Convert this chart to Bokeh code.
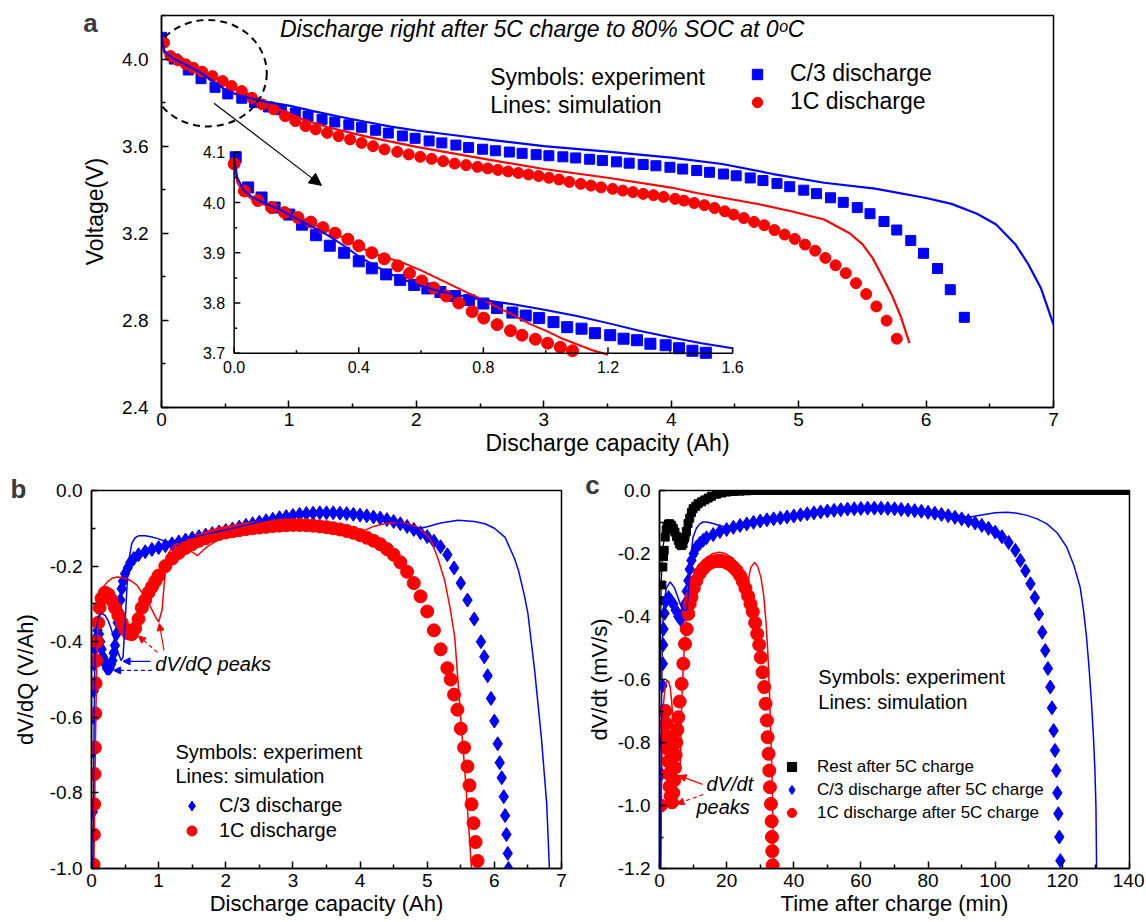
from bokeh.plotting import figure
from bokeh.models import (Range1d, FixedTicker, Label, Arrow, NormalHead, Legend, LegendItem,
                          PrintfTickFormatter)
from bokeh.layouts import column, row
from bokeh.embed import file_html
from bokeh.resources import INLINE
from bokeh.core.properties import value

FONT = "Liberation Sans"
BLUE = "#0000FF"
RED = "#FF0000"
BLACK = "#000000"

# ---------------- Panel a : voltage vs discharge capacity ----------------
A_X_TICKS = [0, 1, 2, 3, 4, 5, 6, 7]
A_X_MINOR = [0.5, 1.5, 2.5, 3.5, 4.5, 5.5, 6.5]
A_Y_TICKS = [2.4, 2.8, 3.2, 3.6, 4.0]
A_Y_MINOR = [2.6, 3.0, 3.4, 3.8, 4.2]

A_C3_EXP = [(0.00, 4.10), (0.10, 4.00), (0.21, 3.95), (0.31, 3.91), (0.42, 3.87), (0.52, 3.84),
            (0.63, 3.82), (0.73, 3.80), (0.84, 3.78), (0.94, 3.767), (1.05, 3.752), (1.15, 3.738),
            (1.26, 3.723), (1.36, 3.711), (1.47, 3.698), (1.57, 3.687), (1.68, 3.673), (1.78, 3.66),
            (1.89, 3.647), (1.99, 3.636), (2.10, 3.624), (2.20, 3.615), (2.31, 3.605), (2.41, 3.594),
            (2.52, 3.586), (2.62, 3.579), (2.73, 3.573), (2.83, 3.567), (2.94, 3.561), (3.04, 3.556),
            (3.15, 3.551), (3.25, 3.546), (3.36, 3.540), (3.46, 3.534), (3.57, 3.528), (3.67, 3.522),
            (3.78, 3.516), (3.88, 3.510), (3.99, 3.503), (4.09, 3.495), (4.20, 3.488), (4.30, 3.480),
            (4.41, 3.472), (4.51, 3.464), (4.62, 3.454), (4.72, 3.442), (4.83, 3.429), (4.93, 3.414),
            (5.04, 3.398), (5.14, 3.382), (5.25, 3.363), (5.35, 3.342), (5.46, 3.318), (5.56, 3.290),
            (5.67, 3.254), (5.77, 3.215), (5.88, 3.167), (5.98, 3.108), (6.09, 3.038), (6.19, 2.941),
            (6.30, 2.814)]

A_1C_EXP = [(0.02, 4.075), (0.07, 4.014), (0.13, 3.994), (0.19, 3.976), (0.25, 3.96), (0.32, 3.942),
            (0.40, 3.922), (0.48, 3.899), (0.55, 3.876), (0.63, 3.853), (0.71, 3.822), (0.79, 3.792),
            (0.88, 3.769), (0.97, 3.738), (1.05, 3.715), (1.13, 3.692), (1.21, 3.677), (1.30, 3.661),
            (1.39, 3.646), (1.48, 3.631), (1.57, 3.615), (1.66, 3.600), (1.75, 3.585), (1.85, 3.574),
            (1.94, 3.562), (2.03, 3.551), (2.12, 3.542), (2.21, 3.531), (2.30, 3.520), (2.39, 3.513),
            (2.48, 3.505), (2.56, 3.498), (2.64, 3.491), (2.72, 3.484), (2.80, 3.477), (2.88, 3.470),
            (2.96, 3.463), (3.04, 3.455), (3.12, 3.447), (3.20, 3.436), (3.29, 3.427), (3.37, 3.419),
            (3.45, 3.411), (3.54, 3.404), (3.62, 3.396), (3.70, 3.389), (3.78, 3.381), (3.86, 3.375),
            (3.94, 3.367), (4.03, 3.358), (4.10, 3.350), (4.18, 3.339), (4.26, 3.329), (4.34, 3.316),
            (4.42, 3.301), (4.49, 3.286), (4.57, 3.270), (4.65, 3.252), (4.73, 3.237), (4.81, 3.215),
            (4.89, 3.194), (4.97, 3.174), (5.05, 3.148), (5.13, 3.120), (5.21, 3.087), (5.29, 3.053),
            (5.37, 3.017), (5.45, 2.971), (5.53, 2.921), (5.61, 2.864), (5.69, 2.799), (5.77, 2.716)]

A_C3_SIM = [(0.0, 4.10), (0.02, 4.04), (0.05, 4.02), (0.1, 4.0), (0.2, 3.97), (0.3, 3.94), (0.4, 3.90),
            (0.5, 3.86), (0.6, 3.835), (0.7, 3.82), (0.8, 3.806), (1.0, 3.786), (1.2, 3.76), (1.4, 3.735),
            (1.6, 3.712), (1.8, 3.69), (2.0, 3.672), (2.3, 3.65), (2.6, 3.628), (3.0, 3.60), (3.5, 3.575),
            (4.0, 3.547), (4.4, 3.518), (4.8, 3.472), (5.2, 3.432), (5.6, 3.405), (6.0, 3.362),
            (6.2, 3.335), (6.4, 3.29), (6.55, 3.24), (6.7, 3.15), (6.8, 3.06), (6.9, 2.95), (7.0, 2.78)]

A_1C_SIM = [(0.0, 4.08), (0.02, 4.03), (0.1, 3.995), (0.3, 3.945), (0.5, 3.888), (0.7, 3.835),
            (0.9, 3.775), (1.1, 3.725), (1.3, 3.688), (1.6, 3.645), (2.0, 3.597), (2.5, 3.545),
            (3.0, 3.495), (3.5, 3.455), (4.0, 3.41), (4.2, 3.385), (4.7, 3.332), (4.95, 3.30),
            (5.2, 3.263), (5.4, 3.20), (5.5, 3.15), (5.58, 3.087), (5.65, 3.01), (5.73, 2.918),
            (5.8, 2.82), (5.87, 2.696)]

# inset (zoom of the first 1.6 Ah)
INS_X_TICKS = [0.0, 0.4, 0.8, 1.2, 1.6]
INS_X_MINOR = [0.2, 0.6, 1.0, 1.4]
INS_Y_TICKS = [3.7, 3.8, 3.9, 4.0, 4.1]
INS_Y_MINOR = [3.75, 3.85, 3.95, 4.05]

INS_C3_EXP = [(0.005, 4.09), (0.045, 4.03), (0.088, 4.01), (0.13, 3.99), (0.177, 3.976), (0.218, 3.956),
              (0.263, 3.935), (0.307, 3.914), (0.353, 3.90), (0.40, 3.883), (0.442, 3.869), (0.488, 3.857),
              (0.533, 3.846), (0.578, 3.836), (0.62, 3.829), (0.662, 3.822), (0.709, 3.814), (0.754, 3.806),
              (0.80, 3.799), (0.844, 3.79), (0.893, 3.781), (0.936, 3.775), (0.979, 3.77), (1.025, 3.762),
              (1.069, 3.752), (1.115, 3.749), (1.158, 3.74), (1.207, 3.736), (1.25, 3.729), (1.293, 3.726),
              (1.336, 3.719), (1.385, 3.716), (1.428, 3.71), (1.471, 3.705), (1.514, 3.701)]

INS_1C_EXP = [(0.0, 4.077), (0.033, 4.023), (0.076, 4.004), (0.12, 3.99), (0.162, 3.98), (0.205, 3.97),
              (0.246, 3.961), (0.285, 3.95), (0.324, 3.939), (0.365, 3.927), (0.40, 3.914), (0.442, 3.90),
              (0.482, 3.888), (0.525, 3.874), (0.563, 3.859), (0.602, 3.844), (0.641, 3.83), (0.681, 3.814),
              (0.721, 3.80), (0.764, 3.783), (0.801, 3.77), (0.844, 3.757), (0.887, 3.745), (0.924, 3.736),
              (0.967, 3.728), (1.006, 3.72), (1.047, 3.712), (1.086, 3.705)]

INS_C3_SIM = [(0.0, 4.09), (0.01, 4.05), (0.03, 4.025), (0.06, 4.01), (0.1, 3.998), (0.15, 3.985),
              (0.2, 3.968), (0.25, 3.952), (0.3, 3.935), (0.35, 3.915), (0.4, 3.893), (0.45, 3.875),
              (0.5, 3.858), (0.55, 3.845), (0.6, 3.834), (0.65, 3.825), (0.7, 3.818), (0.75, 3.812),
              (0.8, 3.806), (0.9, 3.797), (1.0, 3.786), (1.1, 3.774), (1.2, 3.76), (1.3, 3.745),
              (1.4, 3.732), (1.5, 3.72), (1.6, 3.71)]

INS_1C_SIM = [(0.0, 4.08), (0.01, 4.04), (0.03, 4.02), (0.06, 4.005), (0.1, 3.995), (0.15, 3.982),
              (0.2, 3.97), (0.25, 3.958), (0.3, 3.945), (0.35, 3.93), (0.4, 3.912), (0.45, 3.898),
              (0.5, 3.888), (0.55, 3.878), (0.6, 3.865), (0.65, 3.85), (0.7, 3.835), (0.75, 3.82),
              (0.8, 3.806), (0.85, 3.79), (0.9, 3.775), (0.95, 3.758), (1.0, 3.745), (1.05, 3.73),
              (1.1, 3.718), (1.15, 3.706), (1.2, 3.697)]

# ---------------- Panel b : dV/dQ ----------------
B_X_TICKS = [0, 1, 2, 3, 4, 5, 6, 7]
B_X_MINOR = [0.5, 1.5, 2.5, 3.5, 4.5, 5.5, 6.5]
B_Y_TICKS = [-1.0, -0.8, -0.6, -0.4, -0.2, 0.0]
B_Y_MINOR = [-0.9, -0.7, -0.5, -0.3, -0.1]

B_C3_EXP = [(0.02, -0.99), (0.02, -0.85), (0.025, -0.69), (0.03, -0.60), (0.035, -0.53), (0.04, -0.46),
            (0.05, -0.42), (0.07, -0.39), (0.09, -0.37), (0.11, -0.38), (0.13, -0.40), (0.15, -0.42),
            (0.17, -0.44), (0.19, -0.45), (0.21, -0.46), (0.23, -0.47), (0.25, -0.47), (0.27, -0.47),
            (0.29, -0.46), (0.31, -0.45), (0.33, -0.43), (0.35, -0.41), (0.37, -0.38), (0.39, -0.35),
            (0.41, -0.32), (0.43, -0.29), (0.45, -0.26), (0.47, -0.24), (0.50, -0.22), (0.54, -0.205),
            (0.58, -0.19), (0.63, -0.18), (0.70, -0.17), (0.80, -0.162), (0.90, -0.156), (1.00, -0.151),
            (1.10, -0.146), (1.20, -0.141), (1.30, -0.136), (1.40, -0.131), (1.50, -0.126), (1.60, -0.122),
            (1.70, -0.118), (1.80, -0.114), (1.90, -0.11), (2.00, -0.106), (2.10, -0.102), (2.20, -0.097),
            (2.30, -0.092), (2.40, -0.088), (2.50, -0.084), (2.60, -0.08), (2.70, -0.076), (2.80, -0.072),
            (2.90, -0.069), (3.00, -0.066), (3.10, -0.063), (3.20, -0.061), (3.30, -0.06), (3.40, -0.059),
            (3.50, -0.059), (3.60, -0.059), (3.70, -0.06), (3.80, -0.061), (3.90, -0.063), (4.00, -0.065),
            (4.10, -0.067), (4.20, -0.07), (4.30, -0.073), (4.40, -0.077), (4.50, -0.082), (4.60, -0.088),
            (4.70, -0.095), (4.80, -0.103), (4.90, -0.112), (5.00, -0.122), (5.10, -0.134), (5.20, -0.149),
            (5.30, -0.17), (5.40, -0.205), (5.50, -0.245), (5.60, -0.29), (5.70, -0.34), (5.80, -0.40),
            (5.85, -0.44), (5.90, -0.49), (5.95, -0.55), (6.00, -0.61), (6.05, -0.67), (6.08, -0.72),
            (6.11, -0.76), (6.14, -0.81), (6.16, -0.86), (6.18, -0.91), (6.20, -0.96), (6.21, -1.00)]

B_1C_EXP = [(0.03, -0.99), (0.035, -0.91), (0.04, -0.83), (0.045, -0.75), (0.05, -0.68), (0.055, -0.59),
            (0.06, -0.51), (0.07, -0.45), (0.08, -0.40), (0.10, -0.35), (0.12, -0.31), (0.15, -0.285),
            (0.20, -0.27), (0.25, -0.275), (0.30, -0.29), (0.35, -0.31), (0.40, -0.33), (0.45, -0.35),
            (0.50, -0.367), (0.55, -0.378), (0.60, -0.38), (0.65, -0.365), (0.70, -0.34), (0.75, -0.31),
            (0.80, -0.29), (0.85, -0.27), (0.90, -0.255), (0.95, -0.24), (1.00, -0.225), (1.10, -0.20),
            (1.20, -0.18), (1.30, -0.165), (1.40, -0.152), (1.50, -0.142), (1.60, -0.133), (1.70, -0.126),
            (1.80, -0.12), (1.90, -0.115), (2.00, -0.111), (2.10, -0.108), (2.20, -0.105), (2.30, -0.102),
            (2.40, -0.10), (2.50, -0.098), (2.60, -0.096), (2.70, -0.094), (2.80, -0.093), (2.90, -0.092),
            (3.00, -0.091), (3.10, -0.091), (3.20, -0.092), (3.30, -0.093), (3.40, -0.095), (3.50, -0.097),
            (3.60, -0.10), (3.70, -0.103), (3.80, -0.107), (3.90, -0.112), (4.00, -0.118), (4.10, -0.125),
            (4.20, -0.133), (4.30, -0.142), (4.40, -0.155), (4.50, -0.17), (4.60, -0.19), (4.70, -0.215),
            (4.80, -0.245), (4.90, -0.28), (5.00, -0.32), (5.10, -0.37), (5.20, -0.42), (5.30, -0.47),
            (5.35, -0.50), (5.40, -0.54), (5.45, -0.58), (5.50, -0.63), (5.55, -0.68), (5.60, -0.73),
            (5.63, -0.78), (5.66, -0.83), (5.69, -0.88), (5.72, -0.93), (5.75, -0.98)]

B_C3_SIM = [(0.02, -1.0), (0.03, -0.8), (0.04, -0.6), (0.05, -0.45), (0.07, -0.37), (0.10, -0.335),
            (0.15, -0.325), (0.20, -0.33), (0.25, -0.345), (0.30, -0.37), (0.35, -0.40), (0.40, -0.43),
            (0.44, -0.45), (0.47, -0.44), (0.50, -0.35), (0.53, -0.25), (0.56, -0.18), (0.60, -0.14),
            (0.65, -0.125), (0.70, -0.12), (0.80, -0.12), (0.90, -0.123), (1.00, -0.128), (1.10, -0.135),
            (1.20, -0.134), (1.50, -0.124), (2.00, -0.104), (2.50, -0.083), (3.00, -0.065), (3.50, -0.058),
            (4.00, -0.063), (4.50, -0.08), (4.80, -0.098), (4.90, -0.10), (5.00, -0.096), (5.20, -0.086),
            (5.46, -0.079), (5.70, -0.082), (5.86, -0.088), (6.00, -0.10), (6.16, -0.124), (6.30, -0.18),
            (6.36, -0.212), (6.45, -0.28), (6.50, -0.326), (6.60, -0.476), (6.70, -0.653), (6.78, -0.829),
            (6.82, -1.0)]

B_1C_SIM = [(0.035, -1.0), (0.05, -0.8), (0.06, -0.65), (0.085, -0.39), (0.13, -0.28), (0.18, -0.255),
            (0.23, -0.243), (0.30, -0.233), (0.38, -0.229), (0.45, -0.23), (0.53, -0.234), (0.60, -0.24),
            (0.68, -0.251), (0.75, -0.27), (0.83, -0.291), (0.90, -0.315), (0.955, -0.335), (1.00, -0.348),
            (1.05, -0.317), (1.10, -0.212), (1.15, -0.165), (1.22, -0.145), (1.28, -0.141), (1.35, -0.145),
            (1.42, -0.152), (1.50, -0.163), (1.58, -0.172), (1.65, -0.16), (1.75, -0.145), (2.00, -0.12),
            (2.50, -0.10), (3.00, -0.09), (3.50, -0.095), (3.90, -0.108), (4.01, -0.11), (4.20, -0.095),
            (4.36, -0.088), (4.50, -0.085), (4.61, -0.084), (4.75, -0.09), (4.86, -0.097), (4.96, -0.112),
            (5.06, -0.132), (5.16, -0.18), (5.26, -0.238), (5.34, -0.31), (5.41, -0.388), (5.48, -0.556),
            (5.52, -0.65), (5.56, -0.741), (5.61, -0.87), (5.66, -1.0)]

# ---------------- Panel c : dV/dt ----------------
C_X_TICKS = [0, 20, 40, 60, 80, 100, 120, 140]
C_X_MINOR = [10, 30, 50, 70, 90, 110, 130]
C_Y_TICKS = [-1.2, -1.0, -0.8, -0.6, -0.4, -0.2, 0.0]
C_Y_MINOR = [-1.1, -0.9, -0.7, -0.5, -0.3, -0.1]

C_REST_EXP = [(0.5, -0.35), (0.7, -0.30), (1.0, -0.243), (1.2, -0.21), (1.4, -0.19), (1.7, -0.148),
              (2.0, -0.125), (2.3, -0.113), (2.7, -0.106), (3.1, -0.106), (3.6, -0.111), (4.1, -0.12),
              (4.6, -0.132), (5.1, -0.146), (5.6, -0.159), (6.0, -0.17), (6.5, -0.175), (7.0, -0.17),
              (7.5, -0.15), (8.0, -0.13), (8.5, -0.105), (9.0, -0.088), (9.5, -0.07), (10.0, -0.058),
              (10.8, -0.05), (11.5, -0.042), (12.5, -0.036), (13.5, -0.03), (14.5, -0.024), (15.5, -0.018),
              (17.0, -0.012), (18.5, -0.008), (20.0, -0.005), (22.0, -0.003), (24.0, -0.002), (26.0, -0.001),
              (28, 0.0), (30, 0.0), (32, 0.0), (34, 0.0), (36, 0.0), (38, 0.0), (40, 0.0), (42, 0.0),
              (44, 0.0), (46, 0.0), (48, 0.0), (50, 0.0), (52, 0.0), (54, 0.0), (56, 0.0), (58, 0.0),
              (60, 0.0), (62, 0.0), (64, 0.0), (66, 0.0), (68, 0.0), (70, 0.0), (72, 0.0), (74, 0.0),
              (76, 0.0), (78, 0.0), (80, 0.0), (82, 0.0), (84, 0.0), (86, 0.0), (88, 0.0), (90, 0.0),
              (92, 0.0), (94, 0.0), (96, 0.0), (98, 0.0), (100, 0.0), (102, 0.0), (104, 0.0), (106, 0.0),
              (108, 0.0), (110, 0.0), (112, 0.0), (114, 0.0), (116, 0.0), (118, 0.0), (120, 0.0),
              (122, 0.0), (124, 0.0), (126, 0.0), (128, 0.0), (130, 0.0), (132, 0.0), (134, 0.0),
              (136, 0.0), (138, 0.0), (140, 0.0)]

C_REST_SIM = [(0.2, -0.6), (0.5, -0.3), (1.0, -0.18), (2.0, -0.125), (3.0, -0.11), (4.0, -0.115),
              (5.0, -0.135), (6.0, -0.155), (7.0, -0.17), (8.0, -0.172), (8.6, -0.16), (9.2, -0.12),
              (10.0, -0.075), (11.0, -0.05), (12.0, -0.04), (14.0, -0.027), (17.0, -0.013), (20.0, -0.006),
              (25.0, -0.002), (30.0, 0.0), (140.0, 0.0)]

C_C3_EXP = [(0.5, -1.0), (0.6, -0.9), (0.7, -0.8), (0.8, -0.7), (0.9, -0.62), (1.0, -0.55), (1.1, -0.49),
            (1.2, -0.44), (1.5, -0.39), (2.0, -0.35), (2.7, -0.34), (3.4, -0.35), (4.1, -0.36), (4.8, -0.38),
            (5.6, -0.40), (6.3, -0.41), (7.0, -0.39), (7.6, -0.36), (8.1, -0.32), (8.6, -0.286), (9.0, -0.25),
            (9.5, -0.222), (10.2, -0.20), (11.0, -0.18), (12.0, -0.168), (13.0, -0.158), (14.0, -0.15),
            (16.0, -0.14), (18.0, -0.13), (20.0, -0.124), (22.0, -0.117), (24.0, -0.111), (26.0, -0.106),
            (28.0, -0.101), (30.0, -0.097), (32.0, -0.093), (34.0, -0.09), (36.0, -0.087), (38.0, -0.084),
            (40.0, -0.081), (42.0, -0.077), (44.0, -0.074), (46.0, -0.071), (48.0, -0.068), (50.0, -0.065),
            (52.0, -0.063), (54.0, -0.061), (56.0, -0.059), (58.0, -0.058), (60.0, -0.057), (62.0, -0.056),
            (64.0, -0.056), (66.0, -0.056), (68.0, -0.057), (70.0, -0.058), (72.0, -0.06), (74.0, -0.062),
            (76.0, -0.064), (78.0, -0.066), (80.0, -0.069), (82.0, -0.072), (84.0, -0.076), (86.0, -0.08),
            (88.0, -0.085), (90.0, -0.09), (92.0, -0.096), (94.0, -0.103), (96.0, -0.111), (98.0, -0.12),
            (100.0, -0.132), (102.0, -0.147), (104.0, -0.165), (106.0, -0.19), (107.5, -0.222),
            (109.0, -0.255), (110.5, -0.296), (111.8, -0.34), (113.0, -0.392), (114.0, -0.45),
            (114.9, -0.508), (115.7, -0.565), (116.4, -0.624), (116.9, -0.69), (117.4, -0.762),
            (117.8, -0.825), (118.2, -0.889), (118.5, -0.96), (118.8, -1.026), (119.1, -1.10),
            (119.4, -1.175)]

C_C3_SIM = [(0.3, -1.2), (0.5, -0.8), (0.8, -0.5), (1.2, -0.37), (2.0, -0.31), (3.2, -0.29), (4.5, -0.31),
            (5.5, -0.34), (6.5, -0.37), (7.5, -0.38), (8.1, -0.38), (8.6, -0.33), (9.2, -0.22), (10.0, -0.148),
            (11.0, -0.12), (12.0, -0.106), (13.0, -0.10), (14.0, -0.10), (16.0, -0.105), (18.0, -0.112),
            (20.0, -0.116), (25.0, -0.105), (30.0, -0.095), (40.0, -0.08), (50.0, -0.065), (60.0, -0.056),
            (70.0, -0.056), (80.0, -0.063), (86.0, -0.073), (92.0, -0.085), (96.0, -0.078), (100.0, -0.071),
            (103.6, -0.069), (106.5, -0.072), (109.5, -0.079), (112.5, -0.09), (115.4, -0.106),
            (118.5, -0.135), (121.3, -0.18), (123.5, -0.24), (125.3, -0.307), (126.3, -0.38),
            (127.2, -0.466), (128.0, -0.57), (128.7, -0.677), (129.3, -0.79), (129.7, -0.889),
            (130.0, -1.0), (130.2, -1.2)]

C_1C_EXP = [(0.4, -1.0), (1.8, -0.70), (2.0, -0.74), (2.2, -0.78), (2.4, -0.82), (2.6, -0.86), (2.8, -0.90),
            (3.0, -0.94), (3.3, -0.97), (3.7, -0.99), (4.1, -0.96), (4.4, -0.92), (4.6, -0.88), (4.8, -0.84),
            (5.0, -0.80), (5.3, -0.76), (5.6, -0.72), (6.0, -0.67), (6.6, -0.614), (7.1, -0.55), (7.6, -0.487),
            (8.1, -0.44), (8.6, -0.392), (9.0, -0.36), (9.5, -0.339), (10.2, -0.31), (11.0, -0.286),
            (12.0, -0.263), (13.0, -0.248), (14.0, -0.237), (15.0, -0.23), (16.0, -0.226), (17.0, -0.224),
            (18.0, -0.223), (19.0, -0.225), (20.0, -0.229), (21.0, -0.235), (22.0, -0.243), (23.0, -0.255),
            (24.0, -0.27), (24.8, -0.288), (25.6, -0.31), (26.4, -0.335), (27.1, -0.36), (27.8, -0.385),
            (28.5, -0.42), (29.1, -0.455), (29.7, -0.49), (30.2, -0.53), (30.7, -0.577), (31.2, -0.624),
            (31.6, -0.677), (32.0, -0.73), (32.2, -0.783), (32.5, -0.836), (32.7, -0.889), (32.9, -0.942),
            (33.2, -0.995), (33.4, -1.05), (33.5, -1.10), (33.6, -1.145), (33.7, -1.19)]

C_1C_SIM = [(0.4, -1.2), (0.6, -0.95), (0.8, -0.8), (1.2, -0.677), (1.7, -0.62), (2.2, -0.603), (2.7, -0.607),
            (3.2, -0.624), (3.7, -0.68), (4.2, -0.76), (4.7, -0.84), (5.3, -0.88), (5.8, -0.895), (6.1, -0.89),
            (6.4, -0.80), (6.6, -0.677), (7.1, -0.55), (7.6, -0.466), (8.1, -0.39), (8.5, -0.38), (9.1, -0.33),
            (10.0, -0.29), (11.0, -0.26), (12.0, -0.24), (14.0, -0.212), (16.0, -0.20), (17.9, -0.196),
            (19.5, -0.20), (21.9, -0.215), (23.5, -0.245), (24.8, -0.29), (25.6, -0.31), (26.3, -0.29),
            (27.2, -0.245), (28.3, -0.228), (29.2, -0.24), (30.2, -0.275), (31.0, -0.33), (31.7, -0.413),
            (32.2, -0.50), (32.7, -0.624), (33.1, -0.75), (33.5, -0.889), (33.8, -1.05), (34.0, -1.2)]


def xs(pairs):
    return [p[0] for p in pairs]


def ys(pairs):
    return [p[1] for p in pairs]


def style(p, xt, xm, yt, ym, x_std, y_std, xl_std, yl_std, tick_fs="19px", lab_fs="22px"):
    p.xgrid.visible = False
    p.ygrid.visible = False
    p.outline_line_color = "black"
    p.outline_line_width = 1.5
    p.outline_line_alpha = 1.0
    p.background_fill_color = "white"
    p.border_fill_color = "white"
    p.xaxis.ticker = FixedTicker(ticks=xt, minor_ticks=xm)
    p.yaxis.ticker = FixedTicker(ticks=yt, minor_ticks=ym)
    p.yaxis.formatter = PrintfTickFormatter(format="%.1f")
    for ax in (p.xaxis[0], p.yaxis[0]):
        ax.axis_line_width = 1.5
        ax.axis_line_color = "black"
        ax.major_tick_in = 7
        ax.major_tick_out = 0
        ax.minor_tick_in = 4
        ax.minor_tick_out = 0
        ax.major_tick_line_width = 1.5
        ax.minor_tick_line_width = 1.5
        ax.major_label_text_font = FONT
        ax.major_label_text_font_size = tick_fs
        ax.major_label_text_color = "black"
        ax.axis_label_text_font = FONT
        ax.axis_label_text_font_size = lab_fs
        ax.axis_label_text_font_style = "normal"
        ax.axis_label_text_color = "black"
    p.xaxis[0].major_label_standoff = x_std
    p.yaxis[0].major_label_standoff = y_std
    p.xaxis[0].axis_label_standoff = xl_std
    p.yaxis[0].axis_label_standoff = yl_std


def text_label(p, x, y, txt, size="20px", style_="normal", **kw):
    p.add_layout(Label(x=x, y=y, text=txt, text_font=FONT, text_font_size=size,
                       text_font_style=style_, text_color="black", text_baseline="middle", **kw))


def panel_letter(p, x, y, letter, dx, dy, side):
    # placed in a side panel so that it is not clipped to the plot frame
    p.add_layout(Label(x=x, y=y, text=letter, text_font=FONT, text_font_size="26px",
                       text_font_style="bold", text_color="#3a3a3a", text_align="center",
                       text_baseline="middle", x_offset=dx, y_offset=dy), side)


def make_legend(p, items, loc, gw, gh, standoff, fs, spacing=0):
    leg = Legend(items=items, location=loc, orientation="vertical", glyph_width=gw, glyph_height=gh,
                 label_standoff=standoff, spacing=spacing, padding=0, margin=0,
                 border_line_alpha=0, background_fill_alpha=0, label_text_color="black",
                 label_text_font=FONT, label_text_font_size=fs, label_height=gh)
    p.add_layout(leg)


# ================= Figure a =================
pa = figure(width=1144, height=460, x_range=Range1d(0, 7), y_range=Range1d(2.4, 4.2),
            output_backend="svg", toolbar_location=None,
            min_border_left=161, min_border_right=91, min_border_top=15, min_border_bottom=53,
            x_axis_label="Discharge capacity (Ah)", y_axis_label="Voltage(V)")
style(pa, A_X_TICKS, A_X_MINOR, A_Y_TICKS, A_Y_MINOR, 5, 13, 1, 11, lab_fs="23px")

r_sq = pa.scatter(xs(A_C3_EXP), ys(A_C3_EXP), marker="square", size=10, fill_color=BLUE, line_color=BLUE)
r_ci = pa.scatter(xs(A_1C_EXP), ys(A_1C_EXP), marker="circle", size=11, fill_color=RED, line_color=RED)
pa.line(xs(A_1C_SIM), ys(A_1C_SIM), line_color=RED, line_width=2.2)
pa.line(xs(A_C3_SIM), ys(A_C3_SIM), line_color=BLUE, line_width=2.2)

# dashed circle + arrow pointing to the inset
pa.ellipse(x=[0.365], y=[3.935], width=[0.922], height=[0.489], fill_alpha=0,
           line_color="black", line_width=2, line_dash="7 5")
pa.add_layout(Arrow(end=NormalHead(size=12, fill_color="black", line_color="black"),
                    x_start=0.412, y_start=3.797, x_end=1.255, y_end=3.42,
                    line_color="black", line_width=1.2))

text_label(pa, 0.93, 4.138, "Discharge right after 5C charge to 80% SOC at 0ᵒC", size="23px", style_="italic")
text_label(pa, 2.58, 3.917, "Symbols: experiment", size="23px")
text_label(pa, 2.58, 3.788, "Lines: simulation", size="23px")
panel_letter(pa, 0, 4.2, "a", -71, -7, "left")

make_legend(pa, [LegendItem(label="C/3 discharge", renderers=[r_sq]),
                 LegendItem(label="1C discharge", renderers=[r_ci])],
            (583, 292), 26, 26, 20, "23px", spacing=1)

# inset drawn in its own sub-coordinates
sub = pa.subplot(x_source=Range1d(INS_X_TICKS[0], INS_X_TICKS[-1]),
                 y_source=Range1d(INS_Y_TICKS[0], INS_Y_TICKS[-1]),
                 x_target=Range1d(0.570, 4.482), y_target=Range1d(2.649, 3.572))
sub.scatter(xs(INS_C3_EXP), ys(INS_C3_EXP), marker="square", size=11, fill_color=BLUE, line_color=BLUE)
sub.scatter(xs(INS_1C_EXP), ys(INS_1C_EXP), marker="circle", size=12, fill_color=RED, line_color=RED)
sub.line(xs(INS_1C_SIM), ys(INS_1C_SIM), line_color=RED, line_width=2)
sub.line(xs(INS_C3_SIM), ys(INS_C3_SIM), line_color=BLUE, line_width=2)

x0, y0 = INS_X_TICKS[0], INS_Y_TICKS[0]
sub.segment(x0=[x0, x0], y0=[y0, y0], x1=[x0, INS_X_TICKS[-1]], y1=[INS_Y_TICKS[-1], y0],
            line_color="black", line_width=1.5)
sub.segment(x0=[x0] * len(INS_Y_TICKS), y0=INS_Y_TICKS, x1=[x0 + 0.02] * len(INS_Y_TICKS), y1=INS_Y_TICKS,
            line_color="black", line_width=1.5)
sub.segment(x0=[x0] * len(INS_Y_MINOR), y0=INS_Y_MINOR, x1=[x0 + 0.01] * len(INS_Y_MINOR), y1=INS_Y_MINOR,
            line_color="black", line_width=1.5)
sub.segment(x0=INS_X_TICKS, y0=[y0] * len(INS_X_TICKS), x1=INS_X_TICKS, y1=[y0 + 0.012] * len(INS_X_TICKS),
            line_color="black", line_width=1.5)
sub.segment(x0=INS_X_MINOR, y0=[y0] * len(INS_X_MINOR), x1=INS_X_MINOR, y1=[y0 + 0.006] * len(INS_X_MINOR),
            line_color="black", line_width=1.5)
sub.text(x=[x0] * len(INS_Y_TICKS), y=INS_Y_TICKS, text=[f"{t:.1f}" for t in INS_Y_TICKS],
         x_offset=-9, text_align="right", text_baseline="middle",
         text_font=value(FONT), text_font_size="16px", text_color="black")
sub.text(x=INS_X_TICKS, y=[y0] * len(INS_X_TICKS), text=[f"{t:.1f}" for t in INS_X_TICKS],
         y_offset=8, text_align="center", text_baseline="top",
         text_font=value(FONT), text_font_size="16px", text_color="black")

# ================= Figure b =================
pb = figure(width=583, height=460, x_range=Range1d(0, 7), y_range=Range1d(-1.0, 0.0),
            output_backend="svg", toolbar_location=None,
            min_border_left=91, min_border_right=22, min_border_top=30, min_border_bottom=52,
            x_axis_label="Discharge capacity (Ah)", y_axis_label="dV/dQ (V/Ah)")
style(pb, B_X_TICKS, B_X_MINOR, B_Y_TICKS, B_Y_MINOR, 5, 9, 1, 9)

r_bd = pb.scatter(xs(B_C3_EXP), ys(B_C3_EXP), marker="diamond", size=14, fill_color=BLUE, line_color=BLUE)
r_bc = pb.scatter(xs(B_1C_EXP), ys(B_1C_EXP), marker="circle", size=13, fill_color=RED, line_color=RED)
pb.line(xs(B_1C_SIM), ys(B_1C_SIM), line_color=RED, line_width=1.5)
pb.line(xs(B_C3_SIM), ys(B_C3_SIM), line_color=BLUE, line_width=1.5)

pb.add_layout(Arrow(end=NormalHead(size=7, fill_color=BLUE, line_color=BLUE),
                    x_start=0.88, y_start=-0.452, x_end=0.47, y_end=-0.452, line_color=BLUE, line_width=1.2))
pb.add_layout(Arrow(end=NormalHead(size=7, fill_color=BLUE, line_color=BLUE),
                    x_start=0.90, y_start=-0.476, x_end=0.33, y_end=-0.476, line_color=BLUE, line_width=1.2,
                    line_dash="4 3"))
pb.add_layout(Arrow(end=NormalHead(size=7, fill_color=RED, line_color=RED),
                    x_start=1.08, y_start=-0.423, x_end=1.01, y_end=-0.352, line_color=RED, line_width=1.2))
pb.add_layout(Arrow(end=NormalHead(size=7, fill_color=RED, line_color=RED),
                    x_start=0.98, y_start=-0.428, x_end=0.70, y_end=-0.385, line_color=RED, line_width=1.2,
                    line_dash="4 3"))
text_label(pb, 0.95, -0.458, "dV/dQ peaks", size="20px", style_="italic")
text_label(pb, 1.25, -0.692, "Symbols: experiment")
text_label(pb, 1.25, -0.754, "Lines: simulation")
panel_letter(pb, 0, 0.0, "b", -73, 2, "above")
make_legend(pb, [LegendItem(label="C/3 discharge", renderers=[r_bd]),
                 LegendItem(label="1C discharge", renderers=[r_bc])],
            (88, 25), 25, 25, 15, "20px")

# ================= Figure c =================
pc = figure(width=561, height=460, x_range=Range1d(0, 140), y_range=Range1d(-1.2, 0.0),
            output_backend="svg", toolbar_location=None,
            min_border_left=73, min_border_right=15, min_border_top=30, min_border_bottom=52,
            x_axis_label="Time after charge (min)", y_axis_label="dV/dt (mV/s)")
style(pc, C_X_TICKS, C_X_MINOR, C_Y_TICKS, C_Y_MINOR, 5, 9, 1, 3)

r_ck = pc.scatter(xs(C_REST_EXP), ys(C_REST_EXP), marker="square", size=8, fill_color=BLACK, line_color=BLACK)
r_cd = pc.scatter(xs(C_C3_EXP), ys(C_C3_EXP), marker="diamond", size=14, fill_color=BLUE, line_color=BLUE)
r_cc = pc.scatter(xs(C_1C_EXP), ys(C_1C_EXP), marker="circle", size=13, fill_color=RED, line_color=RED)
pc.line(xs(C_1C_SIM), ys(C_1C_SIM), line_color=RED, line_width=1.5)
pc.line(xs(C_C3_SIM), ys(C_C3_SIM), line_color=BLUE, line_width=1.5)
pc.line(xs(C_REST_SIM), ys(C_REST_SIM), line_color=BLACK, line_width=1.2)

pc.add_layout(Arrow(end=NormalHead(size=7, fill_color=RED, line_color=RED),
                    x_start=12.8, y_start=-0.933, x_end=5.8, y_end=-0.905, line_color=RED, line_width=1.2))
pc.add_layout(Arrow(end=NormalHead(size=7, fill_color=RED, line_color=RED),
                    x_start=13.0, y_start=-0.965, x_end=5.2, y_end=-0.995, line_color=RED, line_width=1.2,
                    line_dash="4 3"))
text_label(pc, 14.0, -0.931, "dV/dt", size="20px", style_="italic")
text_label(pc, 11.0, -1.005, "peaks", size="20px", style_="italic")
text_label(pc, 47.3, -0.593, "Symbols: experiment")
text_label(pc, 47.3, -0.672, "Lines: simulation")
panel_letter(pc, 0, 0.0, "c", -67, 6, "above")
make_legend(pc, [LegendItem(label="Rest after 5C charge", renderers=[r_ck]),
                 LegendItem(label="C/3 discharge after 5C charge", renderers=[r_cd]),
                 LegendItem(label="1C discharge after 5C charge", renderers=[r_cc])],
            (121, 44), 23, 23, 14, "17px")

layout = column(pa, row(pb, pc))
open("out.html", "w").write(file_html(layout, INLINE))
